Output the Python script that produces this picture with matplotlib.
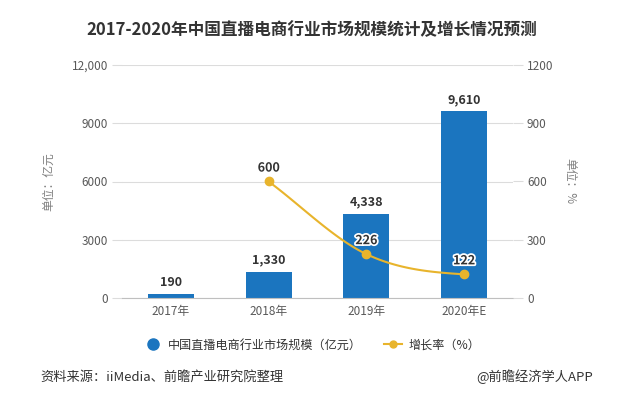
import numpy as np
import matplotlib
matplotlib.use("Agg")
import matplotlib.pyplot as plt
from matplotlib.lines import Line2D
import matplotlib.patheffects as pe

plt.rcParams['font.family'] = ['Noto Sans CJK SC', 'DejaVu Sans']

years = ["2017年", "2018年", "2019年", "2020年E"]
market = [190, 1330, 4338, 9610]
market_labels = ["190", "1,330", "4,338", "9,610"]
growth_years = [1, 2, 3]
growth = [600, 226, 122]
left_ticks = [0, 3000, 6000, 9000, 12000]
left_tick_labels = ["0", "3000", "6000", "9000", "12,000"]
right_ticks = [0, 300, 600, 900, 1200]

blue = "#1B75BF"
gold = "#E8B42C"
grid_c = "#DCDCDC"
tick_c = "#595959"

fig = plt.figure(figsize=(6.43, 3.96), dpi=100)
ax = fig.add_axes([122 / 643, 1 - 298 / 396, (513 - 122) / 643, (298 - 65) / 396])
ax2 = ax.twinx()

x = np.arange(len(years))
ax.bar(x, market, width=0.47, color=blue, zorder=2)
for xi, v, lab in zip(x, market, market_labels):
    ax.annotate(lab, (xi, v), xytext=(0, 4), textcoords="offset points",
                ha="center", va="bottom", fontsize=9, fontweight="bold", color="#333333")

ax.set_xlim(-0.5, 3.5)
ax.set_ylim(0, 12000)
ax.set_yticks(left_ticks)
ax.set_yticklabels(left_tick_labels)
ax.set_xticks(x)
ax.set_xticklabels(years)
ax.grid(axis="y", color=grid_c, linewidth=0.8, zorder=0)
ax.set_axisbelow(True)
for s in ["top", "right", "left"]:
    ax.spines[s].set_visible(False)
ax.spines["bottom"].set_color("#BFBFBF")
ax.tick_params(axis="y", length=7, color=grid_c, labelcolor=tick_c, labelsize=8.5, pad=3)
ax.tick_params(axis="x", length=0, labelcolor=tick_c, labelsize=8.5, pad=5)
ax.set_ylabel("单位：亿元", color="#7F7F7F", fontsize=8.5)
ax.yaxis.set_label_coords(-0.171, 0.5)

# growth line, smooth drawing through the points (cubic hermite between data points)
gx = np.array(growth_years, dtype=float)
gy = np.array(growth, dtype=float)
slopes = np.gradient(gy, gx)
slopes[-1] = slopes[-1] * 0.3
xs, ys = [], []
for i in range(len(gx) - 1):
    t = np.linspace(0, 1, 40)
    h = gx[i + 1] - gx[i]
    h00 = 2 * t**3 - 3 * t**2 + 1
    h10 = t**3 - 2 * t**2 + t
    h01 = -2 * t**3 + 3 * t**2
    h11 = t**3 - t**2
    xs.extend(gx[i] + t * h)
    ys.extend(h00 * gy[i] + h10 * h * slopes[i] + h01 * gy[i + 1] + h11 * h * slopes[i + 1])
ax2.plot(xs, ys, color=gold, linewidth=1.5, zorder=3)
ax2.plot(gx, gy, "o", color=gold, markersize=6, zorder=4)
for xi, v in zip(gx, gy):
    ax2.annotate(str(int(v)), (xi, v), xytext=(0, 5), textcoords="offset points",
                 ha="center", va="bottom", fontsize=9, fontweight="bold", color="#333333",
                 path_effects=[pe.withStroke(linewidth=2.5, foreground="white")])

ax2.set_ylim(0, 1200)
ax2.set_yticks(right_ticks)
for s in ["top", "right", "left", "bottom"]:
    ax2.spines[s].set_visible(False)
ax2.tick_params(axis="y", length=7, color=grid_c, labelcolor=tick_c, labelsize=8.5, pad=3)
ax2.set_ylabel("单位：%", color="#7F7F7F", fontsize=8.5, rotation=270, va="center")
ax2.yaxis.set_label_coords(1.146, 0.5)

fig.text(0.485, 0.925, "2017-2020年中国直播电商行业市场规模统计及增长情况预测",
         ha="center", va="center", fontsize=12, fontweight="bold", color="#333333")

handles = [
    Line2D([], [], marker="o", linestyle="none", markersize=8, color=blue),
    Line2D([], [], marker="o", linestyle="-", markersize=5, color=gold, linewidth=1.5),
]
fig.legend(handles, ["中国直播电商行业市场规模（亿元）", "增长率（%）"],
           loc="center", bbox_to_anchor=(312 / 643, 1 - 345 / 396), ncol=2, frameon=False,
           fontsize=8.7, handlelength=1.5, columnspacing=1.8, handletextpad=0.5,
           labelcolor="#333333")

fig.text(40 / 643, 1 - 377 / 396, "资料来源：iiMedia、前瞻产业研究院整理", ha="left", va="center",
         fontsize=9.5, color="#333333")
fig.text(593 / 643, 1 - 377 / 396, "@前瞻经济学人APP", ha="right", va="center",
         fontsize=9.5, color="#333333")

fig.savefig("out.png", dpi=100)
